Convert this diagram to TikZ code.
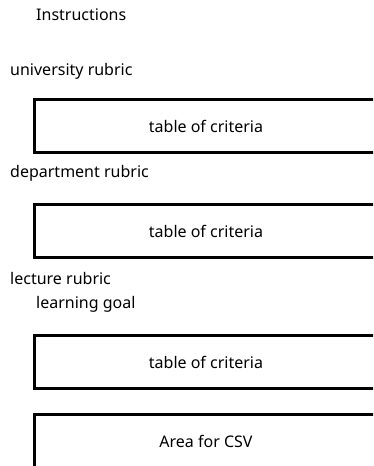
\documentclass[tikz,border=0pt]{standalone}
\usepackage{fontspec}
\setmainfont{Noto Sans}
\begin{document}
\begin{tikzpicture}[x=1pt,y=-1pt,
  lbl/.style={anchor=west,inner sep=0pt,font=\fontsize{16}{19}\selectfont},
  crit/.style={draw,line width=2.2pt,minimum width=343pt,minimum height=53pt,inner sep=0pt,font=\fontsize{16}{19}\selectfont}]
\useasboundingbox (0,0) rectangle (373,466);
\clip (0,0) rectangle (373,466);
\node[lbl] (instr) at (36,15) {Instructions};
\node[lbl] (uni) at (10,71) {university rubric};
\node[crit] (t1) at (206,126) {table of criteria};
\node[lbl] (dep) at (10,173) {department rubric};
\node[crit] (t2) at (206,231) {table of criteria};
\node[lbl] (lec) at (10,278) {lecture rubric};
\node[lbl] (goal) at (36,304) {learning goal};
\node[crit] (t3) at (206,362) {table of criteria};
\node[crit] (csv) at (206,441) {Area for CSV};
\end{tikzpicture}
\end{document}
